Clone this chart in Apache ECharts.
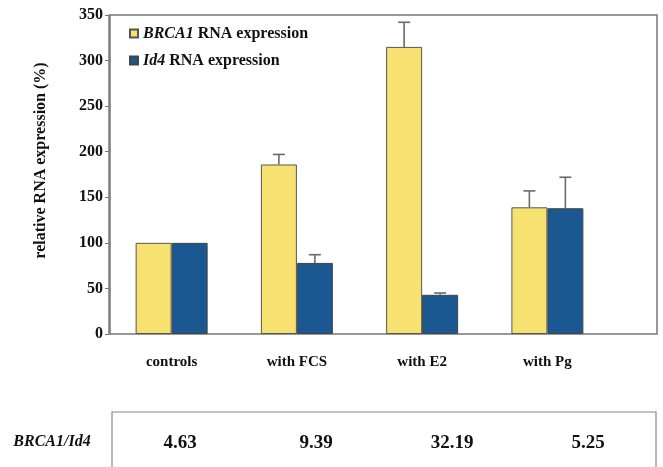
<!DOCTYPE html>
<html>
<head>
<meta charset="utf-8">
<script src="https://cdn.jsdelivr.net/npm/echarts@6/dist/echarts.min.js"></script>
<style>
  html, body { margin: 0; padding: 0; background: #fff; }
  #chart { width: 663px; height: 467px; }
</style>
</head>
<body>
<div id="chart"></div>
<script>
// data
var categories = ['controls', 'with FCS', 'with E2', 'with Pg'];
var brca1 = [100, 186, 315, 139];
var brca1Err = [0, 11, 27, 18];
var id4 = [100, 78, 43, 138];
var id4Err = [0, 9, 2, 34];
var ratioLabel = 'BRCA1/Id4';
var ratios = ['4.63', '9.39', '32.19', '5.25'];

var FONT = '"Liberation Serif", "DejaVu Serif", serif';
var BAR_W = 36;
var YELLOW = '#F7E171';
var BLUE = '#1B5790';
var LINE = '#6a6a6a';

var myChart = echarts.init(document.getElementById('chart'));

// error bars (upper only), offset half a bar from the category centre
function errorSeries(vals, errs, side) {
	return {
		type: 'custom',
		xAxisIndex: 0,
		yAxisIndex: 0,
		z: 3,
		silent: true,
		data: vals.map(function (v, i) { return [i, v, v + errs[i]]; }),
		renderItem: function (params, api) {
			var lo = api.coord([api.value(0), api.value(1)]);
			var hi = api.coord([api.value(0), api.value(2)]);
			if (api.value(2) - api.value(1) <= 0) return null;
			var x = lo[0] + side * BAR_W / 2;
			var style = { stroke: LINE, lineWidth: 1.6 };
			return {
				type: 'group',
				children: [
					{ type: 'line', shape: { x1: x, y1: lo[1], x2: x, y2: hi[1] }, style: style },
					{ type: 'line', shape: { x1: x - 6, y1: hi[1], x2: x + 6, y2: hi[1] }, style: style }
				]
			};
		}
	};
}

// table under the chart
var tableLeft = 112, tableRight = 656, tableTop = 412;
var colW = (tableRight - tableLeft) / ratios.length;
var tableGraphics = [
	{
		type: 'rect',
		shape: { x: tableLeft, y: tableTop, width: tableRight - tableLeft, height: 80 },
		style: { fill: 'none', stroke: '#888', lineWidth: 1.2 }
	},
	{
		type: 'text',
		x: 52, y: 442,
		style: {
			text: ratioLabel, font: 'italic bold 16px ' + FONT, fill: '#111',
			align: 'center', verticalAlign: 'middle'
		}
	}
];
ratios.forEach(function (r, i) {
	tableGraphics.push({
		type: 'text',
		x: tableLeft + colW * (i + 0.5), y: 443,
		style: {
			text: r, font: 'bold 19px ' + FONT, fill: '#111',
			align: 'center', verticalAlign: 'middle'
		}
	});
});

myChart.setOption({
	animation: false,
	backgroundColor: '#fff',
	textStyle: { fontFamily: FONT },
	legend: {
		orient: 'vertical',
		left: 124,
		top: 19,
		icon: 'rect',
		itemWidth: 8,
		itemHeight: 8,
		itemGap: 8,
		data: ['BRCA1', 'Id4'],
		formatter: function (name) {
			return '{i|' + name + '} RNA expression';
		},
		textStyle: {
			fontFamily: FONT,
			fontWeight: 'bold',
			fontSize: 16,
			color: '#111',
			lineHeight: 19,
			rich: {
				i: { fontFamily: FONT, fontStyle: 'italic', fontWeight: 'bold', fontSize: 16, color: '#111' }
			}
		}
	},
	grid: [
		{ left: 109, width: 501, top: 15, bottom: 133 },
		{ left: 110, right: 6, top: 15, bottom: 133, show: true, borderColor: '#777', borderWidth: 1.5, backgroundColor: 'transparent' }
	],
	xAxis: [
		{
			type: 'category',
			gridIndex: 0,
			data: categories,
			axisLine: { show: false },
			axisTick: { show: false },
			axisLabel: { margin: 21, fontFamily: FONT, fontWeight: 'bold', fontSize: 15, color: '#111' }
		},
		{ type: 'value', gridIndex: 1, show: false }
	],
	yAxis: [
		{
			type: 'value',
			gridIndex: 0,
			min: 0,
			max: 350,
			interval: 50,
			name: 'relative RNA expression (%)',
			nameLocation: 'middle',
			nameGap: 60,
			nameTextStyle: {
				fontFamily: FONT, fontWeight: 'bold', fontSize: 16, color: '#111',
				padding: [0, 0, 0, 28]
			},
			axisLine: { show: true, lineStyle: { color: '#777', width: 1.5 } },
			axisTick: { show: true, length: 4, lineStyle: { color: '#777' } },
			axisLabel: { margin: 6, fontFamily: FONT, fontWeight: 'bold', fontSize: 16, color: '#111' },
			splitLine: { show: false }
		},
		{ type: 'value', gridIndex: 1, show: false }
	],
	series: [
		{
			name: 'BRCA1',
			type: 'bar',
			barWidth: BAR_W,
			barGap: '0%',
			itemStyle: { color: YELLOW, borderColor: '#555', borderWidth: 1 },
			data: brca1
		},
		{
			name: 'Id4',
			type: 'bar',
			barWidth: BAR_W,
			barGap: '0%',
			itemStyle: { color: BLUE, borderColor: '#444', borderWidth: 1 },
			data: id4
		},
		errorSeries(brca1, brca1Err, -1),
		errorSeries(id4, id4Err, 1)
	],
	graphic: tableGraphics
});
</script>
</body>
</html>
